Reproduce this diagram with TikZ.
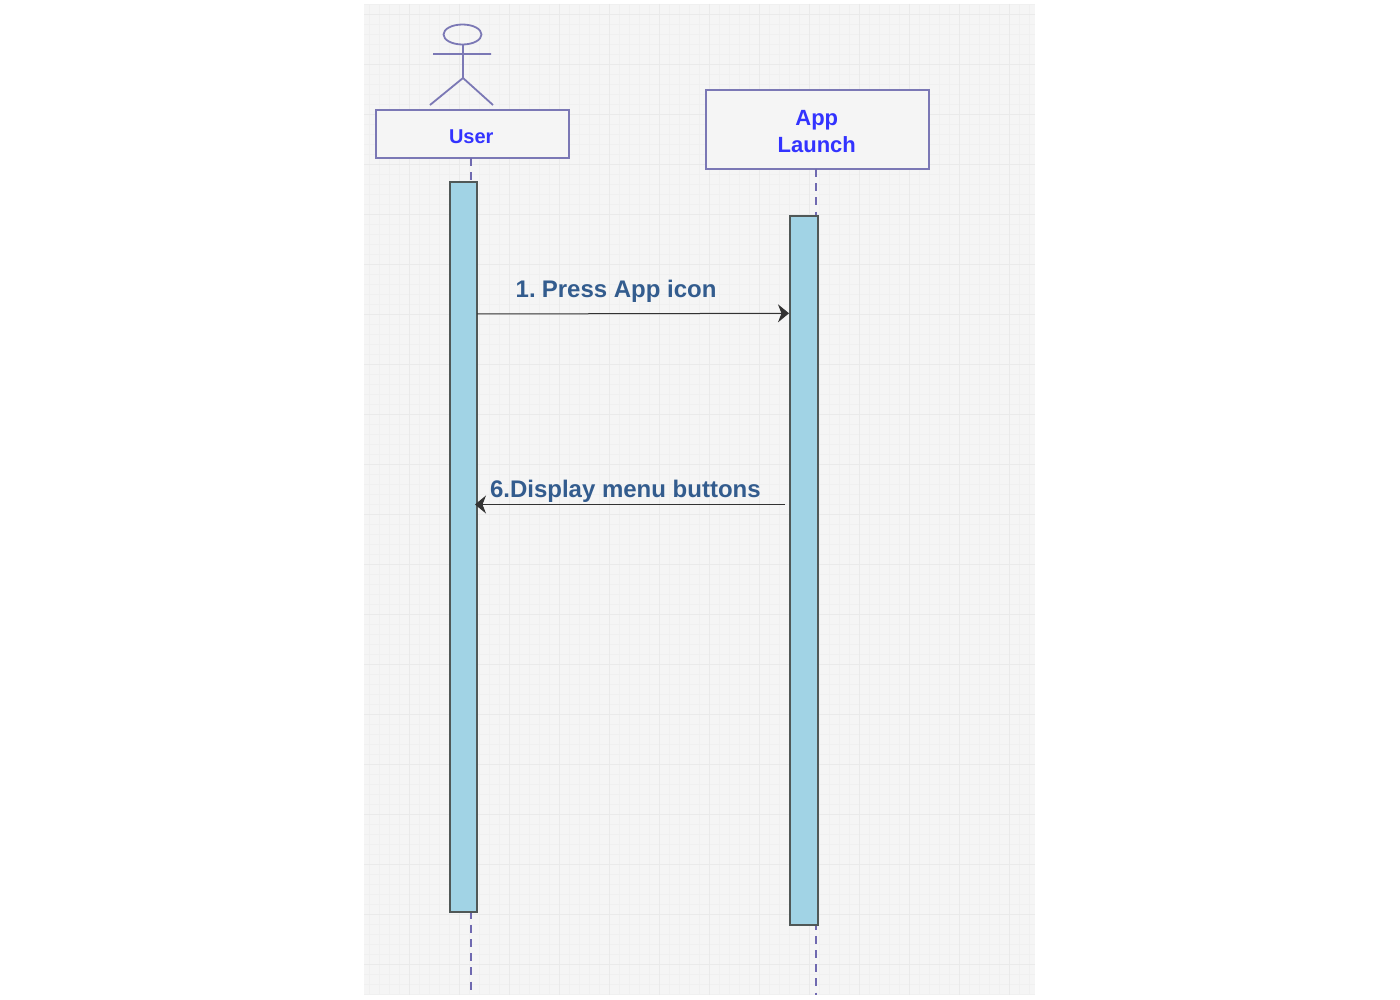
\documentclass[tikz,border=0pt]{standalone}
\usepackage{fontspec}
\setmainfont{Liberation Sans}
\usetikzlibrary{arrows.meta}
\definecolor{panel}{HTML}{F5F5F5}
\definecolor{gridminor}{HTML}{F0F0F0}
\definecolor{gridmajor}{HTML}{EAEAEA}
\definecolor{actor}{HTML}{7B78B5}
\definecolor{lifeline}{HTML}{6F69B0}
\definecolor{actortext}{HTML}{3333FF}
\definecolor{msgtext}{HTML}{335C8E}
\definecolor{barfill}{HTML}{A1D3E5}
\definecolor{barline}{HTML}{505857}
\definecolor{msgline}{HTML}{333333}
\newcommand{\lowered}[2]{\raisebox{-#1}[\height][0pt]{#2}}
\tikzset{
  x=1pt,y=-1pt,
  actorline/.style={draw=actor,line width=1.8pt},
  headbox/.style={draw=actor,line width=1.8pt,fill=panel,rectangle,inner sep=0pt,align=center,text=actortext,font=\bfseries},
  lifedash/.style={draw=lifeline,line width=1.8pt,dash pattern=on 8pt off 6.2pt},
  barbox/.style={draw=barline,line width=1.6pt,fill=barfill,rectangle,inner sep=0pt},
  msgarrow/.style={draw=msgline,line width=1pt,-{Stealth[length=11pt,width=18pt,inset=3.5pt]}},
  msglabel/.style={inner sep=0pt,anchor=base west,text=msgtext,font=\bfseries\fontsize{24}{28}\selectfont},
}
\begin{document}
\begin{tikzpicture}
\useasboundingbox (0,0) rectangle (1400,1000);
\fill[panel] (364,4) rectangle (1035,995);
\begin{scope}
\clip (364,4) rectangle (1035,995);
\foreach \g in {369.5,379.5,...,1035}{\draw[gridminor,line width=.8pt] (\g,4) -- (\g,995);}
\foreach \g in {4.5,14.5,...,995}{\draw[gridminor,line width=.8pt] (364,\g) -- (1035,\g);}
\foreach \g in {409.5,459.5,...,1035}{\draw[gridmajor,line width=.8pt] (\g,4) -- (\g,995);}
\foreach \g in {14.5,64.5,...,995}{\draw[gridmajor,line width=.8pt] (364,\g) -- (1035,\g);}
\end{scope}
% lifelines
\coordinate (userend) at (471,995);
\coordinate (append) at (815.7,995);
\node[headbox,minimum width=193pt,minimum height=48pt,font=\bfseries\fontsize{20}{27}\selectfont] (user) at (472.5,134) {\lowered{2.5pt}{\hspace{-2.5pt}User}};
\node[headbox,minimum width=223pt,minimum height=79pt,font=\bfseries\fontsize{22}{27.5}\selectfont] (app) at (817.5,129.5) {\lowered{2pt}{\hspace{-1.5pt}App}\\\lowered{2pt}{\hspace{-1.5pt}Launch}};
\draw[lifedash] (471,158) -- (userend);
\draw[lifedash] (815.7,169) -- (append);
\node[barbox,minimum width=27pt,minimum height=730pt] (ubar) at (463.5,547) {};
\node[barbox,minimum width=28pt,minimum height=709pt] (abar) at (804,570.5) {};
% actor
\draw[actorline] (462.5,34.5) ellipse [x radius=19pt,y radius=10pt];
\draw[actorline] (463,44.5) -- (463,78) (433,54) -- (491,54) (430,105) -- (463,78) -- (493,105);
% messages
\coordinate (m1s) at (477,314);
\coordinate (m1e) at (789,313.3);
\coordinate (m2s) at (785,504.5);
\coordinate (m2e) at (475,504.5);
\draw[msgarrow] (m1s) -- (m1e);
\draw[msgarrow] (m2s) -- (m2e);
\node[msglabel] (l1) at (515.5,298) {1.\hspace{6.1pt}Press App icon};
\node[msglabel] (l2) at (489.8,497) {6.Display menu buttons};
\end{tikzpicture}
\end{document}
